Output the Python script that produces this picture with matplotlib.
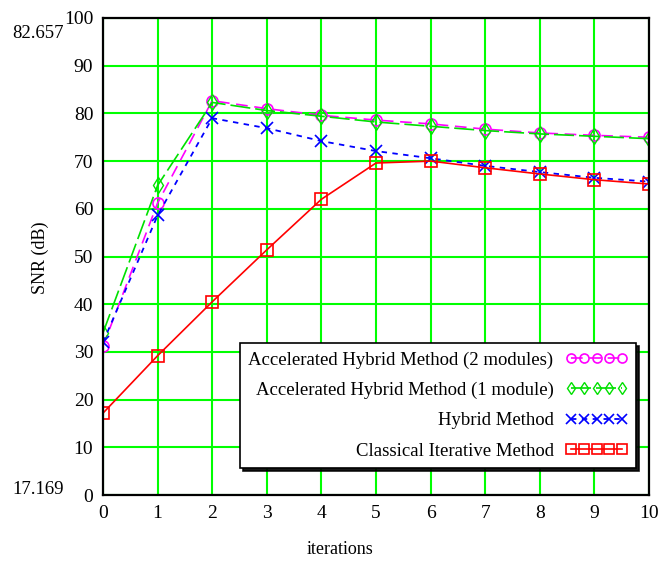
import numpy as np
import matplotlib.pyplot as plt

iterations = np.arange(0, 11)

accel_2mod = [31.2, 61.2, 82.657, 81.0, 79.6, 78.6, 77.8, 76.7, 75.9, 75.4, 75.0]
accel_1mod = [34.0, 64.9, 82.3, 80.6, 79.4, 78.2, 77.3, 76.4, 75.7, 75.2, 74.7]
hybrid = [32.0, 58.6, 79.0, 76.9, 74.2, 72.1, 70.6, 69.0, 67.7, 66.5, 65.7]
classical = [17.169, 29.2, 40.5, 51.4, 62.0, 69.6, 70.0, 68.6, 67.3, 66.1, 65.2]

labels = ['Accelerated Hybrid Method (2 modules)',
          'Accelerated Hybrid Method (1 module)',
          'Hybrid Method',
          'Classical Iterative Method']

plt.rcParams['font.family'] = ['Liberation Serif', 'DejaVu Serif']

fig = plt.figure(figsize=(6.71, 5.67), dpi=100)
ax = fig.add_axes([103 / 671, 72 / 567, 546 / 671, 477 / 567])

ax.plot(iterations, accel_2mod, color='#ff00ff', ls=(0, (7, 4)), lw=1.2,
        marker='o', ms=8, mfc='none', mew=1.2, label=labels[0])
ax.plot(iterations, accel_1mod, color='#00e000', ls=(0, (12, 3)), lw=1.2,
        marker='d', ms=8, mfc='none', mew=1.0, label=labels[1])
ax.plot(iterations, hybrid, color='#0000ff', ls=(0, (3, 3)), lw=1.3,
        marker='x', ms=8, mew=1.2, label=labels[2])
ax.plot(iterations, classical, color='#ff0000', ls='-', lw=1.2,
        marker='s', ms=8, mfc='none', mew=1.2, label=labels[3])

ax.set_xlim(0, 10)
ax.set_ylim(0, 100)
ax.set_xticks(iterations)
ax.set_yticks(np.arange(0, 101, 10))
ax.grid(True, color='#00ff00', lw=1.5)
ax.set_axisbelow(True)
ax.tick_params(length=0, labelsize=14, pad=7)
for s in ax.spines.values():
    s.set_linewidth(1.6)
    s.set_color('black')

fig.text(40 / 671, 1 - 258 / 567, 'SNR (dB)', rotation=90, ha='center', va='center', fontsize=13)
fig.text(340 / 671, 1 - 549 / 567, 'iterations', ha='center', va='center', fontsize=13)
fig.text(38 / 671, 1 - 33 / 567, '82.657', ha='center', va='center', fontsize=13.5)
fig.text(38 / 671, 1 - 490 / 567, '17.169', ha='center', va='center', fontsize=13.5)

leg = ax.legend(loc='lower right', bbox_to_anchor=(533 / 546, 27 / 477),
                borderaxespad=0, markerfirst=False, numpoints=5,
                handlelength=3.3, handletextpad=0.65, labelspacing=0.7,
                fontsize=13.5, fancybox=False, framealpha=1,
                edgecolor='black', borderpad=0.45,
                shadow={'color': 'black', 'alpha': 0.9})
leg.get_frame().set_linewidth(1.2)
for h in leg.legend_handles:
    h.set_markersize(6.5)

fig.savefig('out.png', dpi=100, facecolor='white')
